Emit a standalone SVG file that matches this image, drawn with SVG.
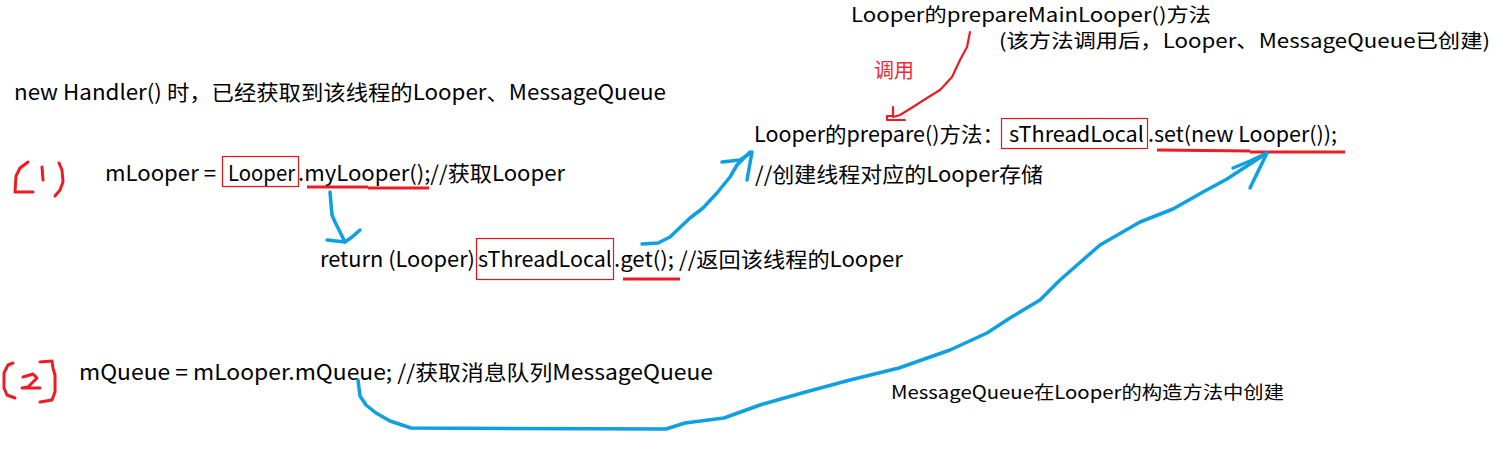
<svg xmlns="http://www.w3.org/2000/svg" width="1505" height="468" viewBox="0 0 1505 468">
<style>
  text { font-family: "Noto Sans CJK SC", "Noto Sans", sans-serif; font-size: 21px; fill: #000; }
  .top { font-size: 19.5px; }
  .small { font-size: 18px; }
  .redtxt { fill: #ee2a36; font-size: 20px; }
  .box { fill: none; stroke: #e8141c; stroke-width: 1.2; }
  .ul { fill: none; stroke: #ed1c24; stroke-width: 3; stroke-linecap: butt; }
  .hand { fill: none; stroke: #ed1c24; stroke-width: 3; stroke-linejoin: round; stroke-linecap: round; }
  .blue { fill: none; stroke: #0ea0e0; stroke-width: 3.5; stroke-linejoin: round; stroke-linecap: round; }
  .redline { fill: none; stroke: #ed1c24; stroke-width: 2.2; stroke-linejoin: round; stroke-linecap: round; }
</style>
<rect width="1505" height="468" fill="#fff"/>

<g id="main-looper">
  <text class="top" x="851" y="22" textLength="360" lengthAdjust="spacingAndGlyphs">Looper的prepareMainLooper()方法</text>
  <text class="top" x="999" y="48" textLength="491" lengthAdjust="spacingAndGlyphs">(该方法调用后，Looper、MessageQueue已创建)</text>
</g>

<g id="call-label">
  <text class="redtxt" x="874" y="78" textLength="40" lengthAdjust="spacingAndGlyphs">调用</text>
</g>

<g id="intro">
  <text x="14" y="100" textLength="652" lengthAdjust="spacingAndGlyphs">new Handler() 时，已经获取到该线程的Looper、MessageQueue</text>
</g>

<g id="step1">
  <path class="hand" d="M28,162 L20,168 L16,176 L15,192 L33,192"/>
  <path class="hand" d="M42,167 L43,180"/>
  <path class="hand" d="M59,163 L62,170 L63,182 L60,190 L55,196"/>
  <text x="105" y="181" textLength="111" lengthAdjust="spacingAndGlyphs">mLooper =</text>
  <text x="228" y="181" textLength="67" lengthAdjust="spacingAndGlyphs">Looper</text>
  <rect class="box" x="222.5" y="156.5" width="76" height="30"/>
  <text x="298" y="181" textLength="267" lengthAdjust="spacingAndGlyphs">.myLooper();//获取Looper</text>
  <path class="ul" d="M307,187 L368,187 M368,188 L429,188"/>
</g>

<g id="return-stmt">
  <text x="320" y="267" textLength="155" lengthAdjust="spacingAndGlyphs">return (Looper)</text>
  <text x="478" y="267" textLength="134" lengthAdjust="spacingAndGlyphs">sThreadLocal</text>
  <rect class="box" x="476.5" y="238.5" width="137" height="41"/>
  <text x="614" y="267" textLength="289" lengthAdjust="spacingAndGlyphs">.get(); //返回该线程的Looper</text>
  <path class="ul" d="M623,279 L680,279"/>
</g>

<g id="prepare">
  <text x="754" y="142" textLength="250" lengthAdjust="spacingAndGlyphs">Looper的prepare()方法：</text>
  <text x="1009" y="142" textLength="135" lengthAdjust="spacingAndGlyphs">sThreadLocal</text>
  <rect class="box" x="1001.5" y="118.5" width="146" height="30"/>
  <text x="1148" y="142" textLength="189" lengthAdjust="spacingAndGlyphs">.set(new Looper());</text>
  <path class="ul" d="M1157,150 L1250,151 M1250,152 L1345,152"/>
  <text x="755" y="182" textLength="288" lengthAdjust="spacingAndGlyphs">//创建线程对应的Looper存储</text>
</g>

<g id="step2">
  <path class="hand" d="M13,363 L8,365 L4,373 L4,388 L7,395 L15,398"/>
  <path class="hand" d="M23,377 L33,374 L37,378 L28,387 L22,388 L40,388"/>
  <path class="hand" d="M40,362 L52,361 L53,368 L55,375 L55,392 L52,400 L40,402"/>
  <text x="79" y="380" textLength="634" lengthAdjust="spacingAndGlyphs">mQueue = mLooper.mQueue; //获取消息队列MessageQueue</text>
</g>

<g id="mq-note">
  <text class="small" x="891" y="399" textLength="393" lengthAdjust="spacingAndGlyphs">MessageQueue在Looper的构造方法中创建</text>
</g>

<g id="connectors">
  <path class="redline" d="M970,32 L967,47 L960,60 L952,77 L940,90 L927,98 L913,107 L900,115 L893,117"/>
  <path class="redline" d="M893,107 L893,116 L887,116 L887,120 L905,120"/>
  <path class="blue" d="M330,192 L332,215 L335,222 L340,232 L345,242"/>
  <path class="blue" d="M327,240 L345,242 L352,237 L360,230"/>
  <path class="blue" d="M642,244 L658,243 L670,237 L690,218 L703,208 L717,193 L730,177 L737,165 L750,152"/>
  <path class="blue" d="M722,162 L740,160 L752,152 L747,180"/>
  <path class="blue" d="M358,380 L360,396 L366,405 L376,413 L390,421 L411,428 L666,429 L685,423 L724,418 L760,405 L802,393 L850,380 L899,368 L950,350 L987,333 L1010,318 L1040,300 L1060,280 L1100,245 L1140,222 L1173,209 L1203,192 L1227,179 L1267,153"/>
  <path class="blue" d="M1233,168 L1250,161 L1267,153 L1250,188"/>
</g>
</svg>
